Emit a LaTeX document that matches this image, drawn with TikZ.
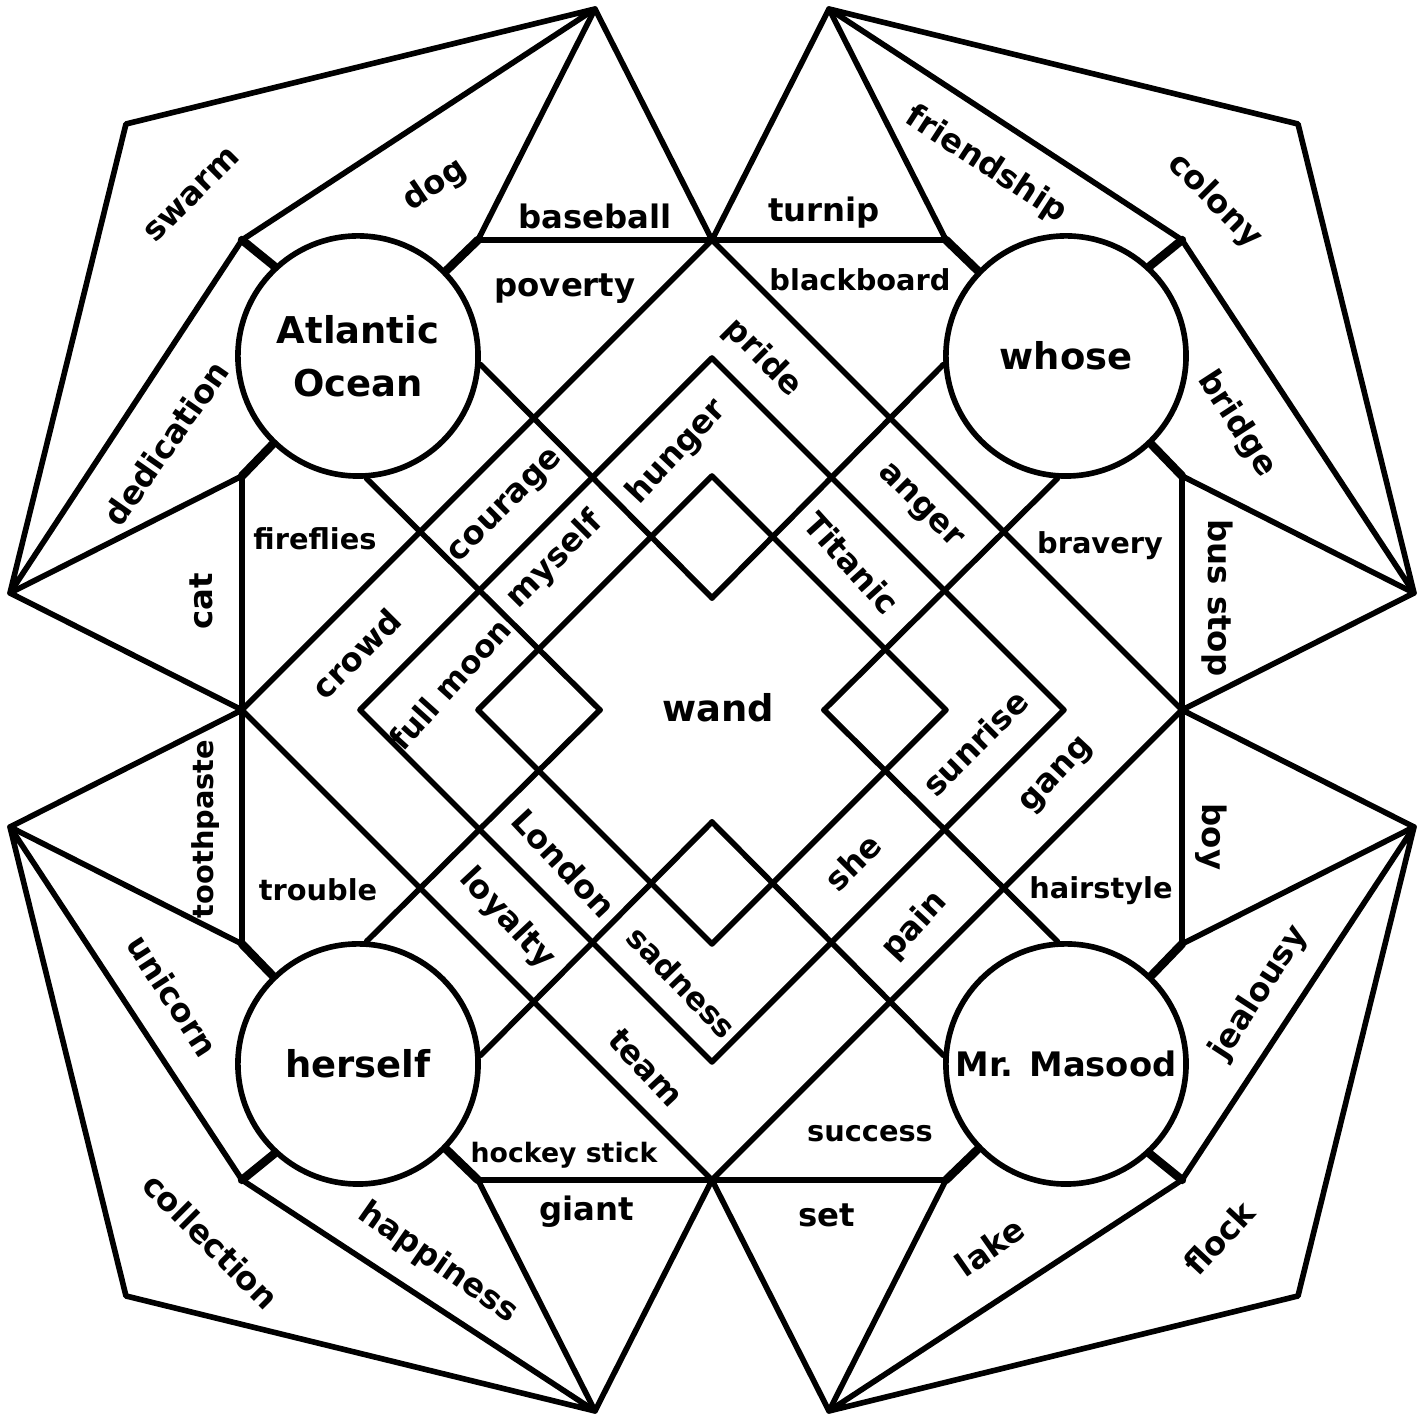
\documentclass[tikz,border=0pt]{standalone}
\usepackage{fontspec}
\setmainfont{DejaVu Sans}
\begin{document}
\begin{tikzpicture}[x=0.01cm, y=0.01cm, line width=1.6pt, line cap=round, line join=round,
    lbl/.style={font=\fontsize{9.2}{11}\selectfont\bfseries, inner sep=0pt},
    lblsmall/.style={font=\fontsize{8.2}{10}\selectfont\bfseries, inner sep=0pt},
    hub/.style={circle, draw, minimum size=2.4cm, inner sep=0pt, align=center,
        font=\fontsize{10.5}{15}\selectfont\bfseries},
    stub/.style={line width=2.4pt}]

    \useasboundingbox (-712,-706) rectangle (714,710);

    % Wing points, one set per corner
    \coordinate (aTL1) at (-117,701);
    \coordinate (aTL2) at (-702,117);
    \coordinate (pTL) at (-586,586);
    \coordinate (qTL) at (-470,470);
    \coordinate (rTL1) at (-234,470);
    \coordinate (rTL2) at (-470,234);

    \coordinate (aTR1) at (117,701);
    \coordinate (aTR2) at (702,117);
    \coordinate (pTR) at (586,586);
    \coordinate (qTR) at (470,470);
    \coordinate (rTR1) at (234,470);
    \coordinate (rTR2) at (470,234);

    \coordinate (aBL1) at (-117,-701);
    \coordinate (aBL2) at (-702,-117);
    \coordinate (pBL) at (-586,-586);
    \coordinate (qBL) at (-470,-470);
    \coordinate (rBL1) at (-234,-470);
    \coordinate (rBL2) at (-470,-234);

    \coordinate (aBR1) at (117,-701);
    \coordinate (aBR2) at (702,-117);
    \coordinate (pBR) at (586,-586);
    \coordinate (qBR) at (470,-470);
    \coordinate (rBR1) at (234,-470);
    \coordinate (rBR2) at (470,-234);

    % Outer diamond corners
    \coordinate (vT) at (0,470);
    \coordinate (vB) at (0,-470);
    \coordinate (vL) at (-470,0);
    \coordinate (vR) at (470,0);

    % The four circles
    \node[hub] (atl) at (-354,354) {Atlantic\\Ocean};
    \node[hub] (whose) at (354,354) {whose};
    \node[hub] (hers) at (-354,-354) {herself};
    \node[hub, font=\fontsize{9.6}{12}\selectfont\bfseries] (mas) at (354,-354) {Mr. Masood};

    % Wings
    \draw (aTL1) -- (pTL) -- (aTL2) -- (qTL) -- cycle;
    \draw (aTL1) -- (rTL1) -- (vT) -- cycle;
    \draw (aTL2) -- (rTL2) -- (vL) -- cycle;

    \draw (aTR1) -- (pTR) -- (aTR2) -- (qTR) -- cycle;
    \draw (aTR1) -- (rTR1) -- (vT) -- cycle;
    \draw (aTR2) -- (rTR2) -- (vR) -- cycle;

    \draw (aBL1) -- (pBL) -- (aBL2) -- (qBL) -- cycle;
    \draw (aBL1) -- (rBL1) -- (vB) -- cycle;
    \draw (aBL2) -- (rBL2) -- (vL) -- cycle;

    \draw (aBR1) -- (pBR) -- (aBR2) -- (qBR) -- cycle;
    \draw (aBR1) -- (rBR1) -- (vB) -- cycle;
    \draw (aBR2) -- (rBR2) -- (vR) -- cycle;

    % Short thick links to the circles
    \draw[stub] (qTL) -- (atl.133);
    \draw[stub] (rTL1) -- (atl);
    \draw[stub] (rTL2) -- (atl);
    \draw[stub] (qTR) -- (whose.47);
    \draw[stub] (rTR1) -- (whose);
    \draw[stub] (rTR2) -- (whose);
    \draw[stub] (qBL) -- (hers.227);
    \draw[stub] (rBL1) -- (hers);
    \draw[stub] (rBL2) -- (hers);
    \draw[stub] (qBR) -- (mas.313);
    \draw[stub] (rBR1) -- (mas);
    \draw[stub] (rBR2) -- (mas);

    % Nested diamonds
    \draw (vT) -- (vR) -- (vB) -- (vL) -- cycle;
    \draw (0,352) -- (352,0) -- (0,-352) -- (-352,0) -- cycle;
    \draw (0,234) -- (234,0) -- (0,-234) -- (-234,0) -- cycle;

    % Bands from each circle towards the middle
    \draw (atl.-4) -- (0,112);
    \draw (atl.-86) -- (-112,0);
    \draw (whose.184) -- (0,112);
    \draw (whose.266) -- (112,0);
    \draw (hers.4) -- (0,-112);
    \draw (hers.86) -- (-112,0);
    \draw (mas.176) -- (0,-112);
    \draw (mas.94) -- (112,0);

    % Words, top left
    \node[lbl, rotate=45] (swarm) at (-520,515) {swarm};
    \node[lbl, rotate=34] (dog) at (-277,525) {dog};
    \node[lbl] (baseball) at (-117,494) {baseball};
    \node[lbl] (poverty) at (-147,421) {poverty};
    \node[lbl, rotate=55] (dedication) at (-546,267) {dedication};
    \node[lbl, rotate=90] (cat) at (-511,109) {cat};
    \node[lblsmall] (fireflies) at (-397,171) {fireflies};
    \node[lbl, rotate=45] (courage) at (-205,203) {courage};
    \node[lbl, rotate=45] (myself) at (-157,150) {myself};
    \node[lbl, rotate=45] (crowd) at (-356,56) {crowd};
    \node[lbl, rotate=48, font=\fontsize{8.8}{10}\selectfont\bfseries] (fullmoon) at (-262,26) {full moon};
    \node[lbl, rotate=47] (hunger) at (-35,258) {hunger};
    \node[lbl, rotate=-45] (pride) at (51,352) {pride};
    \node[lbl, font=\fontsize{10.5}{12}\selectfont\bfseries] (wand) at (6,2) {wand};

    % Words, top right
    \node[lbl] (turnip) at (112,497) {turnip};
    \node[lbl, rotate=-33] (friendship) at (274,545) {friendship};
    \node[lbl, rotate=-45] (colony) at (503,509) {colony};
    \node[lblsmall] (blackboard) at (148,430) {blackboard};
    \node[lbl, rotate=-57] (bridge) at (525,286) {bridge};
    \node[lbl, rotate=-90] (busstop) at (505,112) {bus stop};
    \node[lbl, rotate=-45] (anger) at (207,203) {anger};
    \node[lbl, rotate=-48] (titanic) at (140,147) {Titanic};
    \node[lblsmall] (bravery) at (388,164) {bravery};

    % Words, bottom left
    \node[lblsmall, rotate=90] (toothpaste) at (-506,-119) {toothpaste};
    \node[lblsmall] (trouble) at (-394,-180) {trouble};
    \node[lbl, rotate=-57] (unicorn) at (-539,-286) {unicorn};
    \node[lbl, rotate=-45] (collection) at (-501,-531) {collection};
    \node[lbl, rotate=-35] (happiness) at (-274,-553) {happiness};
    \node[lblsmall, font=\fontsize{7.6}{9}\selectfont\bfseries] (hockey) at (-148,-445) {hockey stick};
    \node[lbl] (giant) at (-125,-502) {giant};
    \node[lbl, rotate=-47] (loyalty) at (-205,-209) {loyalty};
    \node[lbl, rotate=-47] (london) at (-148,-153) {London};
    \node[lbl, rotate=-46, font=\fontsize{8.8}{10}\selectfont\bfseries] (sadness) at (-30,-272) {sadness};
    \node[lbl, rotate=-47] (team) at (-66,-358) {team};

    % Words, bottom right
    \node[lbl, rotate=45] (sunrise) at (263,-33) {sunrise};
    \node[lbl, rotate=47] (gang) at (346,-66) {gang};
    \node[lbl, rotate=45] (she) at (141,-152) {she};
    \node[lbl, rotate=47] (pain) at (203,-216) {pain};
    \node[lblsmall] (hairstyle) at (389,-181) {hairstyle};
    \node[lbl, rotate=-90] (boy) at (499,-127) {boy};
    \node[lbl, rotate=57] (jealousy) at (547,-283) {jealousy};
    \node[lblsmall] (success) at (158,-424) {success};
    \node[lbl] (set) at (115,-505) {set};
    \node[lbl, rotate=35] (lake) at (278,-537) {lake};
    \node[lbl, rotate=47] (flock) at (507,-528) {flock};

\end{tikzpicture}
\end{document}
